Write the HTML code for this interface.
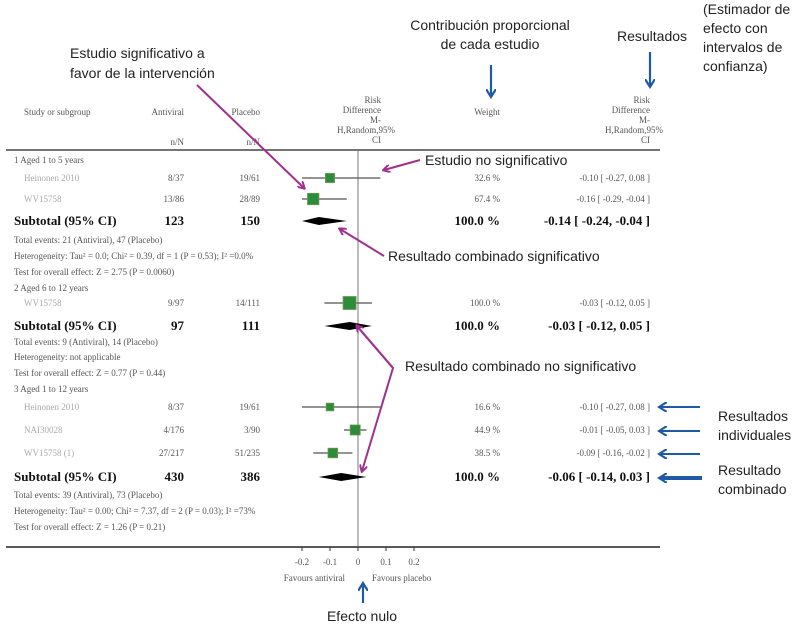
<!DOCTYPE html>
<html><head><meta charset="utf-8">
<style>
html,body{margin:0;padding:0;background:#fff;}
svg{display:block;}
.t{font-family:"Liberation Serif",serif;font-size:9px;fill:#555;}
.b{font-family:"Liberation Serif",serif;font-size:13px;font-weight:bold;fill:#111;}
.a{font-family:"Liberation Sans",sans-serif;font-size:14px;fill:#222;}
</style></head>
<body>
<svg id="chart" width="800" height="624" viewBox="0 0 800 624">
<defs>
<marker id="mp" markerWidth="8" markerHeight="8" refX="6" refY="4" orient="auto" markerUnits="userSpaceOnUse"><path d="M0,0 L7,4 L0,8" fill="none" stroke="#a0308f" stroke-width="2"/></marker>
<marker id="mb" markerWidth="10" markerHeight="10" refX="7" refY="5" orient="auto" markerUnits="userSpaceOnUse"><path d="M0,0 L8,5 L0,10" fill="none" stroke="#1f5aa6" stroke-width="2.2"/></marker>
</defs>
<g id="table">
<text class="t" x="24" y="115">Study or subgroup</text>
<text class="t" x="184" y="115" text-anchor="end">Antiviral</text>
<text class="t" x="260" y="115" text-anchor="end">Placebo</text>
<text class="t" x="184" y="145" text-anchor="end">n/N</text>
<text class="t" x="260" y="145" text-anchor="end">n/N</text>
<g>
<text class="t" x="381" y="103" text-anchor="end">Risk</text><text class="t" x="381" y="113" text-anchor="end">Difference</text>
<text class="t" x="381" y="123" text-anchor="end">M-</text><text class="t" x="395" y="133" text-anchor="end">H,Random,95%</text><text class="t" x="381" y="143" text-anchor="end">CI</text></g>
<text class="t" x="500" y="115" text-anchor="end">Weight</text>
<g>
<text class="t" x="650" y="103" text-anchor="end">Risk</text><text class="t" x="650" y="113" text-anchor="end">Difference</text>
<text class="t" x="650" y="123" text-anchor="end">M-</text><text class="t" x="663" y="133" text-anchor="end">H,Random,95%</text><text class="t" x="650" y="143" text-anchor="end">CI</text></g>
<line x1="6" y1="150" x2="660" y2="150" stroke="#222" stroke-width="1.2"/>
<line x1="6" y1="547" x2="660" y2="547" stroke="#222" stroke-width="1.6"/>
</g>
<g id="rows"></g>
<g id="marks"></g>
<g id="axis"></g>
<g id="annot">
<text class="a" x="70" y="58">Estudio significativo a</text>
<text class="a" x="70" y="78">favor de la intervención</text>
<line x1="197" y1="85" x2="304" y2="188" stroke="#a0308f" stroke-width="2" marker-end="url(#mp)"/>
<text class="a" x="425" y="165">Estudio no significativo</text>
<line x1="420" y1="160" x2="384" y2="170" stroke="#a0308f" stroke-width="2" marker-end="url(#mp)"/>
<text class="a" x="388" y="261">Resultado combinado significativo</text>
<line x1="384" y1="256" x2="340" y2="229" stroke="#a0308f" stroke-width="2" marker-end="url(#mp)"/>
<text class="a" x="405" y="371">Resultado combinado no significativo</text>
<polyline points="356,325 393,368 362,471" fill="none" stroke="#a0308f" stroke-width="2" marker-end="url(#mp)"/>
<line x1="393" y1="368" x2="357" y2="326" stroke="#a0308f" stroke-width="2" marker-end="url(#mp)"/>
<text class="a" x="490" y="30" text-anchor="middle">Contribución proporcional</text>
<text class="a" x="490" y="49" text-anchor="middle">de cada estudio</text>
<line x1="491" y1="65" x2="491" y2="96" stroke="#1f5aa6" stroke-width="2.2" marker-end="url(#mb)"/>
<text class="a" x="652" y="41" text-anchor="middle">Resultados</text>
<line x1="650" y1="52" x2="650" y2="86" stroke="#1f5aa6" stroke-width="2.2" marker-end="url(#mb)"/>
<text class="a" x="703" y="14">(Estimador de</text>
<text class="a" x="703" y="33">efecto con</text>
<text class="a" x="703" y="52">intervalos de</text>
<text class="a" x="703" y="71">confianza)</text>
<line x1="700" y1="407" x2="660" y2="407" stroke="#1f5aa6" stroke-width="2" marker-end="url(#mb)"/>
<line x1="700" y1="431" x2="660" y2="431" stroke="#1f5aa6" stroke-width="2" marker-end="url(#mb)"/>
<line x1="700" y1="454" x2="660" y2="454" stroke="#1f5aa6" stroke-width="2" marker-end="url(#mb)"/>
<line x1="702" y1="478" x2="660" y2="478" stroke="#1f5aa6" stroke-width="4" marker-end="url(#mb)"/>
<text class="a" x="718" y="421">Resultados</text>
<text class="a" x="718" y="440">individuales</text>
<text class="a" x="718" y="475">Resultado</text>
<text class="a" x="718" y="494">combinado</text>
<line x1="363" y1="603" x2="363" y2="584" stroke="#1f5aa6" stroke-width="2.2" marker-end="url(#mb)"/>
<text class="a" x="362" y="621" text-anchor="middle">Efecto nulo</text>
</g>
</svg>
<script>
const ticks=[-0.2,-0.1,0,0.1,0.2];
const tickLabels=["-0.2","-0.1","0","0.1","0.2"];
const studyNames=["Heinonen 2010","WV15758","WV15758","Heinonen 2010","NAI30028","WV15758 (1)"];
const studyAnti=["8/37","13/86","9/97","8/37","4/176","27/217"];
const studyPlac=["19/61","28/89","14/111","19/61","3/90","51/235"];
const studyEst=[-0.10,-0.16,-0.03,-0.10,-0.01,-0.09];
const studyLo=[-0.27,-0.29,-0.12,-0.27,-0.05,-0.16];
const studyHi=[0.08,-0.04,0.05,0.08,0.03,-0.02];
const studyWeight=[32.6,67.4,100.0,16.6,44.9,38.5];
const studyY=[178,199,303,407,430,453];
const subAnti=["123","97","430"];
const subPlac=["150","111","386"];
const subEst=[-0.14,-0.03,-0.06];
const subLo=[-0.24,-0.12,-0.14];
const subHi=[-0.04,0.05,0.03];
const subY=[221,326,477];
const x=v=>358+Math.max(-0.2,Math.min(0.2,v))*280;
const NS="http://www.w3.org/2000/svg";
function mk(tag,attrs,parent,txt){const e=document.createElementNS(NS,tag);for(const k in attrs)e.setAttribute(k,attrs[k]);if(txt!==undefined)e.textContent=txt;parent.appendChild(e);return e;}
const rows=document.getElementById('rows'),marks=document.getElementById('marks'),axis=document.getElementById('axis');
const f=v=>v.toFixed(2);
const labels=[[160,"1 Aged 1 to 5 years"],[240,"Total events: 21 (Antiviral), 47 (Placebo)"],[256,"Heterogeneity: Tau\u00b2 = 0.0; Chi\u00b2 = 0.39, df = 1 (P = 0.53); I\u00b2 =0.0%"],[272,"Test for overall effect: Z = 2.75 (P = 0.0060)"],[288,"2 Aged 6 to 12 years"],[342,"Total events: 9 (Antiviral), 14 (Placebo)"],[357,"Heterogeneity: not applicable"],[373,"Test for overall effect: Z = 0.77 (P = 0.44)"],[389,"3 Aged 1 to 12 years"],[495,"Total events: 39 (Antiviral), 73 (Placebo)"],[511,"Heterogeneity: Tau\u00b2 = 0.00; Chi\u00b2 = 7.37, df = 2 (P = 0.03); I\u00b2 =73%"],[527,"Test for overall effect: Z = 1.26 (P = 0.21)"]];
labels.forEach(l=>{const e=mk('text',{class:'t',x:14,y:l[0]+3},rows,l[1]);

});
mk('line',{x1:358,y1:150,x2:358,y2:547,stroke:'#777','stroke-width':1},marks);
studyY.forEach((y,i)=>{
 const g=mk('g',{},marks);
 
 
 mk('text',{class:'t',x:24,y:y+3,style:'fill:#aaa'},rows,studyNames[i]);
 mk('text',{class:'t',x:184,y:y+3,'text-anchor':'end'},rows,studyAnti[i]);
 mk('text',{class:'t',x:260,y:y+3,'text-anchor':'end'},rows,studyPlac[i]);
 mk('text',{class:'t',x:500,y:y+3,'text-anchor':'end'},rows,studyWeight[i].toFixed(1)+' %');
 mk('text',{class:'t',x:650,y:y+3,'text-anchor':'end'},rows,f(studyEst[i])+' [ '+f(studyLo[i])+', '+f(studyHi[i])+' ]');
 mk('line',{x1:x(studyLo[i]),y1:y,x2:x(studyHi[i]),y2:y,stroke:'#555','stroke-width':1.2},g);
 const s=4+Math.sqrt(studyWeight[i])*0.9;
 mk('rect',{x:x(studyEst[i])-s/2,y:y-s/2,width:s,height:s,fill:'#2e8b3a',stroke:'#6a9a50','stroke-width':0.8},g);
});
subY.forEach((y,i)=>{
 const g=mk('g',{},marks);
 
 
 mk('text',{class:'b',x:14,y:y+4},rows,'Subtotal (95% CI)');
 mk('text',{class:'b',x:184,y:y+4,'text-anchor':'end'},rows,subAnti[i]);
 mk('text',{class:'b',x:260,y:y+4,'text-anchor':'end'},rows,subPlac[i]);
 mk('text',{class:'b',x:500,y:y+4,'text-anchor':'end'},rows,'100.0 %');
 mk('text',{class:'b',x:650,y:y+4,'text-anchor':'end'},rows,f(subEst[i])+' [ '+f(subLo[i])+', '+f(subHi[i])+' ]');
 mk('polygon',{points:`${x(subLo[i])},${y} ${x(subEst[i])},${y-4} ${x(subHi[i])},${y} ${x(subEst[i])},${y+4}`,fill:'#000'},g);
});
ticks.forEach((v,i)=>{
 const t=mk('text',{class:'t',x:x(v),y:565,'text-anchor':'middle'},axis,tickLabels[i]);
 
 
 mk('line',{x1:x(v),y1:547,x2:x(v),y2:551,stroke:'#333'},axis);
});
mk('text',{class:'t',x:345,y:581,'text-anchor':'end'},axis,'Favours antiviral');
mk('text',{class:'t',x:372,y:581},axis,'Favours placebo');
</script>
</body></html>
